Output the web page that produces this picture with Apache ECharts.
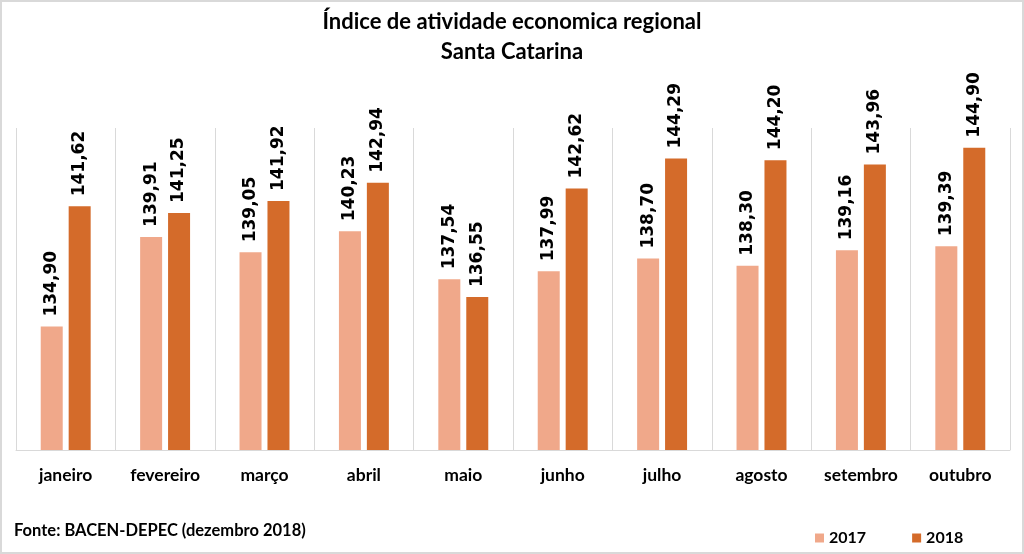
<!DOCTYPE html>
<html><head><meta charset="utf-8">
<script src="https://cdn.jsdelivr.net/npm/echarts@6/dist/echarts.min.js"></script>
<style>html,body{margin:0;padding:0;background:#fff}#c{width:1024px;height:554px;box-sizing:border-box;border:2px solid #d9d9d9}</style>
</head><body><div id="c"></div>
<script>
const categories = ['janeiro','fevereiro','março','abril','maio','junho','julho','agosto','setembro','outubro'];
const values2017 = [134.90,139.91,139.05,140.23,137.54,137.99,138.70,138.30,139.16,139.39];
const values2018 = [141.62,141.25,141.92,142.94,136.55,142.62,144.29,144.20,143.96,144.90];
const seriesNames = ['2017','2018'];

const chart = echarts.init(document.getElementById('c'));
const fmt = p => p.value.toFixed(2).replace('.', ',');
const lbl = {show:true, position:'top', rotate:90, align:'left', verticalAlign:'middle', distance:10,
  formatter:fmt, fontFamily:'DejaVu Sans', fontWeight:'bold', fontSize:17, color:'#000'};
chart.setOption({
  animation:false,
  title:{text:'Índice de atividade economica regional\nSanta Catarina', left:'center', top:0,
    textStyle:{fontFamily:'Lato', fontWeight:'bold', fontSize:22, color:'#000', lineHeight:30}},
  graphic:[{type:'text', left:12, top:520, style:{text:'Fonte: BACEN-DEPEC (dezembro 2018)', fontFamily:'Lato', fontWeight:'bold', fontSize:16.5, fill:'#000'}}],
  legend:{data:seriesNames, left:808, top:523, itemWidth:9, itemHeight:9, itemGap:46, icon:'rect',
    textStyle:{fontFamily:'Lato', fontWeight:'bold', fontSize:16, color:'#000'}},
  grid:{left:14, right:12, top:126, bottom:102},
  xAxis:{type:'category', data:categories,
    axisLine:{lineStyle:{color:'#d9d9d9'}}, axisTick:{show:false},
    splitLine:{show:true, lineStyle:{color:'#d9d9d9'}},
    axisLabel:{fontFamily:'Lato', fontWeight:'bold', fontSize:17.5, color:'#000', margin:16}},
  yAxis:{type:'value', min:128, max:146, interval:2, show:false, splitLine:{show:false}},
  series:[
    {name:seriesNames[0], type:'bar', data:values2017, barWidth:22, barGap:'27%', itemStyle:{color:'#F0A88A'}, label:lbl},
    {name:seriesNames[1], type:'bar', data:values2018, barWidth:22, itemStyle:{color:'#D46B2A'}, label:lbl}
  ]
});
</script></body></html>
